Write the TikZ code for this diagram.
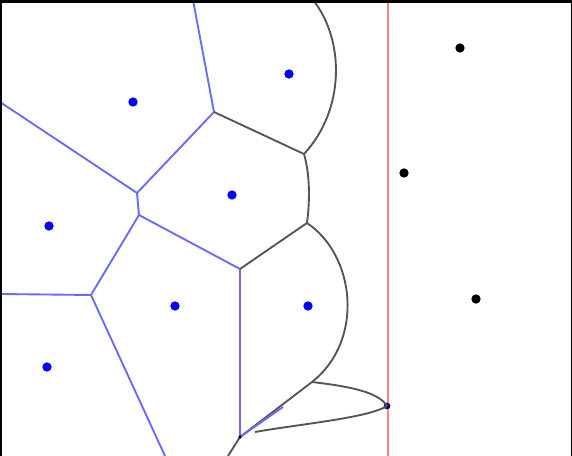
\documentclass[tikz,border=0pt]{standalone}
\usepackage{tikz}

\definecolor{edgeblue}{RGB}{105,105,255}
\definecolor{beachgray}{RGB}{85,85,85}
\definecolor{sweepred}{RGB}{255,130,130}

\begin{document}
\begin{tikzpicture}[x=0.75pt,y=-0.75pt,line join=round]
    \tikzstyle{site}=[circle, fill=blue, inner sep=0pt, minimum size=7pt]
    \tikzstyle{oldsite}=[circle, fill=black, inner sep=0pt, minimum size=7pt]
    \tikzstyle{cell}=[draw=edgeblue, line width=1.4pt]
    \tikzstyle{beach}=[draw=beachgray, line width=1.4pt]

    \useasboundingbox (0,0) rectangle (572,456);
    \fill[white] (0,0) rectangle (572,456);

    % sites already passed by the sweep line
    \node[site] (s1) at (133,102) {};
    \node[site] (s2) at (289,74) {};
    \node[site] (s3) at (232,195) {};
    \node[site] (s4) at (49,226) {};
    \node[site] (s5) at (175,306) {};
    \node[site] (s6) at (308,306) {};
    \node[site] (s7) at (47,367) {};

    % sites still to come
    \node[oldsite] (t1) at (460,48) {};
    \node[oldsite] (t2) at (404,173) {};
    \node[oldsite] (t3) at (476,299) {};

    % voronoi vertices
    \coordinate (v1) at (214,112);
    \coordinate (v2) at (304,154);
    \coordinate (v3) at (137,193);
    \coordinate (v4) at (139,215);
    \coordinate (v5) at (307,223);
    \coordinate (v6) at (240,269);
    \coordinate (v7) at (91,295);
    \coordinate (v8) at (312,382);
    \coordinate (v9) at (240,437);
    \coordinate (v10) at (283,407);
    \coordinate (lens) at (255,432);

    % where edges leave the frame
    \coordinate (b1) at (193,0);
    \coordinate (b2) at (0,102);
    \coordinate (b3) at (0,294);
    \coordinate (b4) at (165,456);
    \coordinate (b5) at (228,456);
    \coordinate (b6) at (313,0);
    \coordinate (sw1) at (388,0);
    \coordinate (sw2) at (388,456);

    % sweep line
    \draw[sweepred, line width=1.8pt] (sw1) -- (sw2);

    % finished edges
    \draw[cell] (b1) -- (v1);
    \draw[cell] (v1) -- (v3);
    \draw[cell] (b2) -- (v3);
    \draw[cell] (v3) -- (v4);
    \draw[cell] (v4) -- (v6);
    \draw[cell] (v4) -- (v7);
    \draw[cell] (b3) -- (v7);
    \draw[cell] (v7) -- (b4);
    \draw[cell] (v6) -- (v9);

    % growing edges and beach line
    \draw[beach] (v1) -- (v2);
    \draw[beach] (v5) -- (v6);
    \draw[beach] (v8) -- (v9);
    \draw[beach] (v9) -- (b5);
    \draw[cell] (v9) -- (v10);
    \draw[beach] (b6) .. controls (345,40) and (345,110) .. (v2);
    \draw[beach] (v2) .. controls (310,175) and (310,200) .. (v5);
    \draw[beach] (v5) .. controls (355,255) and (365,340) .. (v8);
    \node[circle, fill=blue!50!black, inner sep=0pt, minimum size=5pt] (new) at (387,406) {};
    \draw[beach] (v8) .. controls (345,386) and (378,391) .. (new.center);
    \draw[beach] (new.center) .. controls (368,418) and (300,424) .. (lens);
    \fill[black] (v9) circle (1.4pt);

    % frame
    \draw[black, line width=1.5pt] (0.8,456) -- (0.8,0);
    \draw[black, line width=2.2pt] (0,1.4) -- (572,1.4);
    \draw[black, line width=0.9pt] (571.4,0) -- (571.4,456);
  \end{tikzpicture}
\end{document}
